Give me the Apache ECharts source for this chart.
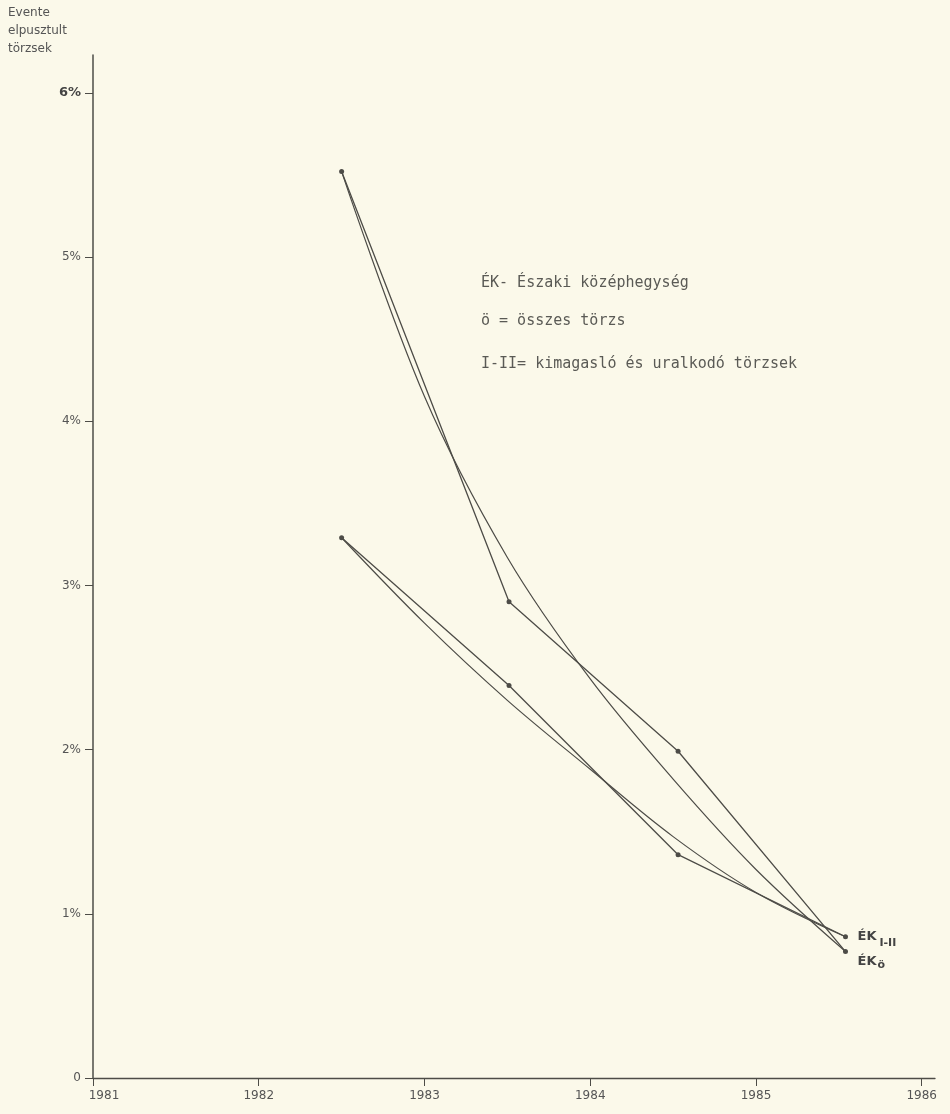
<!DOCTYPE html>
<html>
<head>
<meta charset="utf-8">
<script src="https://cdn.jsdelivr.net/npm/echarts@6/dist/echarts.min.js"></script>
<style>
html,body{margin:0;padding:0;background:#fbf9ea;}
#c{width:950px;height:1114px;}
</style>
</head>
<body>
<div id="c"></div>
<script>
// Data
const years = [1982.5, 1983.51, 1984.53, 1985.54];
const osszes = [5.52, 2.90, 1.99, 0.77];      // ÉK ö – összes törzs
const kimagaslo = [3.29, 2.39, 1.36, 0.86];   // ÉK I-II – kimagasló és uralkodó törzsek
const trendYears = [1982.5, 1983.0, 1983.5, 1984.0, 1984.5, 1985.0, 1985.54];
const osszesTrend = [5.52, 4.15, 3.17, 2.43, 1.82, 1.27, 0.77];
const kimagasloTrend = [3.29, 2.77, 2.30, 1.88, 1.47, 1.13, 0.86];
const xTicks = [1981, 1982, 1983, 1984, 1985, 1986];
const yTicks = [0, 1, 2, 3, 4, 5, 6];
const yTickLabels = ['0', '1%', '2%', '3%', '4%', '5%', '6%'];

const ink = '#4d4c47';
const pairs = (xs, ys) => xs.map((x, i) => [x, ys[i]]);
const fontFam = 'DejaVu Sans, sans-serif';
const monoFam = 'DejaVu Sans Mono, monospace';

const chart = echarts.init(document.getElementById('c'));
chart.setOption({
  backgroundColor: '#fbf9ea',
  animation: false,
  grid: {left: 93, right: 15, top: 55, bottom: 36},
  xAxis: {
    type: 'value', min: 1981, max: 1986.08,
    axisLine: {show: true, lineStyle: {color: ink, width: 1.3}},
    axisTick: {show: true, length: 8, customValues: xTicks, lineStyle: {color: ink}},
    axisLabel: {customValues: xTicks, color: '#555', fontFamily: fontFam, fontSize: 12, margin: 12,
      formatter: v => Math.round(v) === xTicks[0] ? '{f|' + v + '}' : String(Math.round(v)),
      rich: {f: {padding: [0, 0, 0, 22], color: '#555', fontFamily: fontFam, fontSize: 12}}},
    splitLine: {show: false}
  },
  yAxis: {
    type: 'value', min: 0, max: 6.23,
    axisLine: {show: true, lineStyle: {color: ink, width: 1.5}},
    axisTick: {show: true, length: 8, customValues: yTicks, lineStyle: {color: ink}},
    axisLabel: {customValues: yTicks, color: '#555', fontFamily: fontFam, fontSize: 12, margin: 12,
      formatter: v => {
        const i = yTicks.indexOf(Math.round(v));
        return i === 6 ? '{b|' + yTickLabels[i] + '}' : yTickLabels[i];
      },
      rich: {b: {fontWeight: 'bold', fontSize: 13, color: '#444', fontFamily: fontFam}}
    },
    splitLine: {show: false}
  },
  series: [
    {
      name: 'ÉK ö', type: 'line', data: pairs(years, osszes),
      symbol: 'circle', symbolSize: 5,
      lineStyle: {color: ink, width: 1.3}, itemStyle: {color: ink},
      endLabel: {show: true, formatter: '{a|ÉK}{s|ö}', distance: 12, offset: [0, 10],
        rich: {a: {fontSize: 13, fontWeight: 'bold', color: '#444', fontFamily: fontFam},
               s: {fontSize: 11, fontWeight: 'bold', color: '#444', fontFamily: fontFam, padding: [8, 0, 0, 1]}}}
    },
    {
      name: 'ÉK I-II', type: 'line', data: pairs(years, kimagaslo),
      symbol: 'circle', symbolSize: 5,
      lineStyle: {color: ink, width: 1.3}, itemStyle: {color: ink},
      endLabel: {show: true, formatter: '{a|ÉK}{s|I-II}', distance: 12, offset: [0, 0],
        rich: {a: {fontSize: 13, fontWeight: 'bold', color: '#444', fontFamily: fontFam},
               s: {fontSize: 11, fontWeight: 'bold', color: '#444', fontFamily: fontFam, padding: [12, 0, 0, 3]}}}
    },
    {
      name: 'ö trend', type: 'line', data: pairs(trendYears, osszesTrend),
      smooth: 0.35, showSymbol: false, lineStyle: {color: ink, width: 1.2}
    },
    {
      name: 'I-II trend', type: 'line', data: pairs(trendYears, kimagasloTrend),
      smooth: 0.35, showSymbol: false, lineStyle: {color: ink, width: 1.2}
    }
  ],
  graphic: [
    {type: 'text', left: 8, top: 4, style: {text: 'Evente\nelpusztult\ntörzsek', lineHeight: 18,
      fill: '#555', font: '12px ' + fontFam}},
    {type: 'text', left: 481, top: 276, style: {text: 'ÉK- Északi középhegység', fill: '#5a5a55', font: '15px ' + monoFam}},
    {type: 'text', left: 481, top: 314, style: {text: 'ö = összes törzs', fill: '#5a5a55', font: '15px ' + monoFam}},
    {type: 'text', left: 481, top: 357, style: {text: 'I-II= kimagasló és uralkodó törzsek', fill: '#5a5a55', font: '15px ' + monoFam}}
  ]
});
</script>
</body>
</html>
